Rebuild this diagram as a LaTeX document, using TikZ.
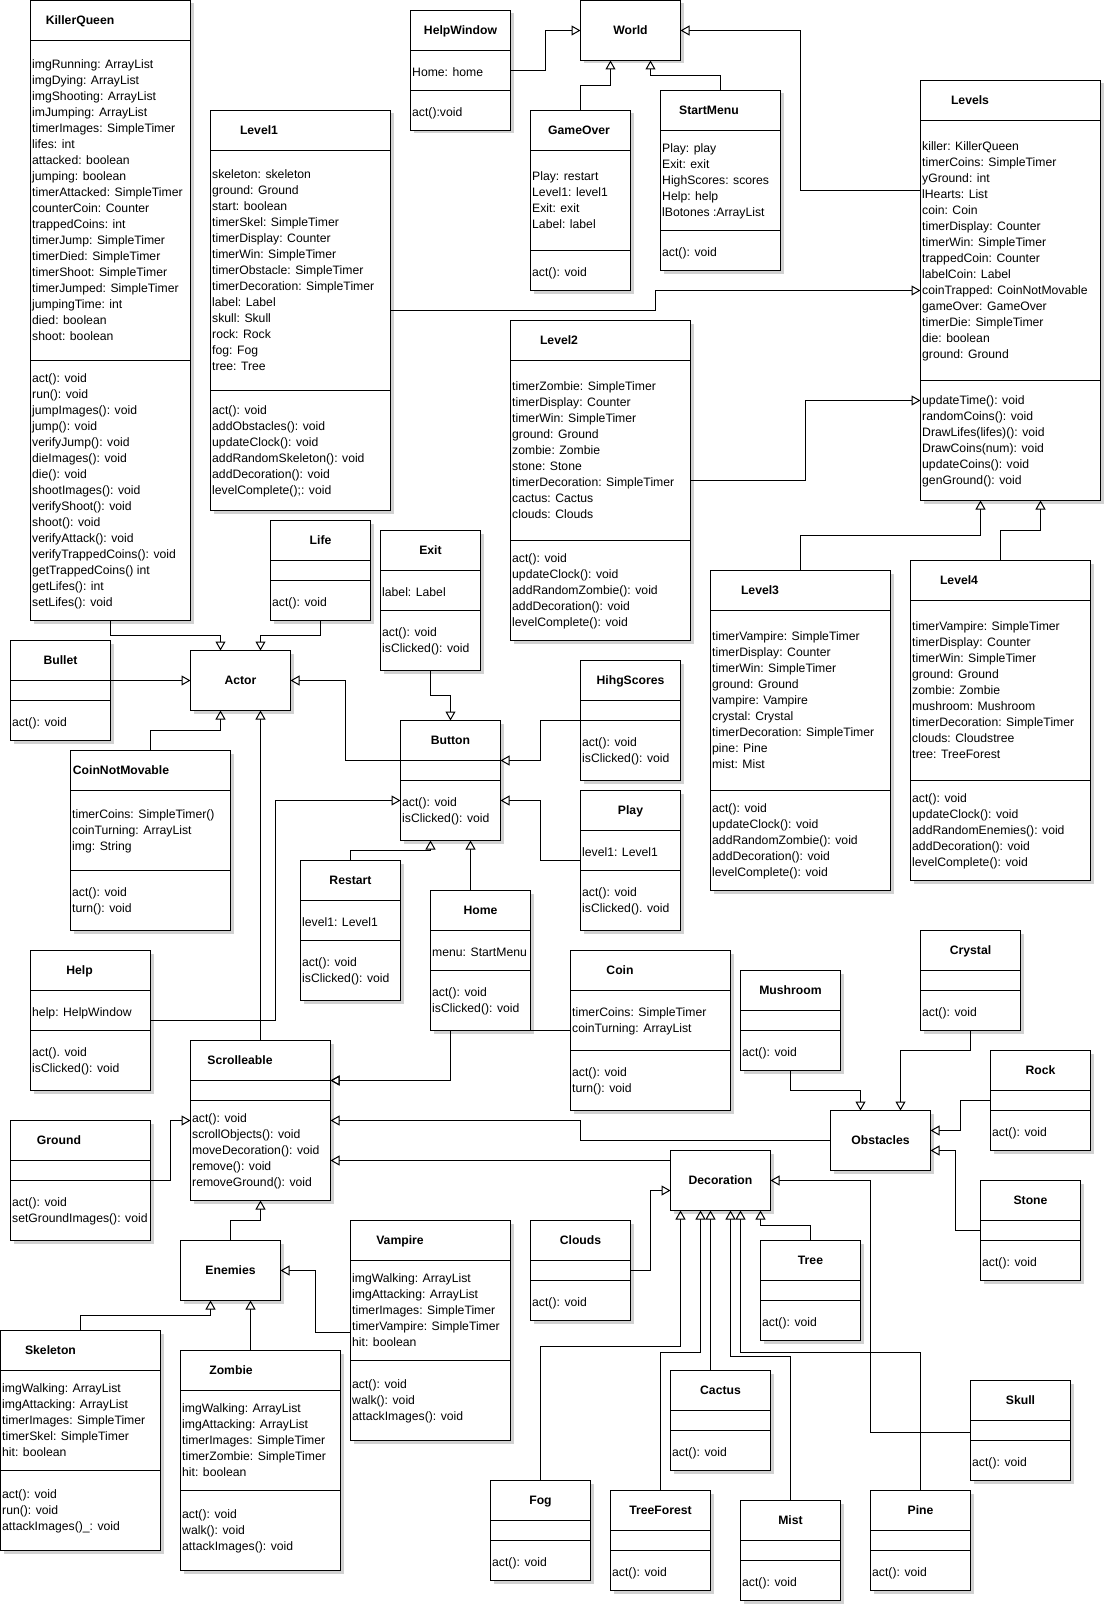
\documentclass[tikz,border=0pt]{standalone}
\usepackage{fontspec}
\setmainfont{Liberation Sans}
\usetikzlibrary{arrows.meta,shadows}

\newcommand{\kstrut}{\rule[-3.9pt]{0pt}{16pt}}
\newcommand{\klass}[9]{%
  \node[klassbox, minimum width={#4-#2}, minimum height={#5-#3}] (#1) at (#2,#3) {};
  \node[klasstitle] (#1-name) at ({#9},{(#3+#6)/2}) {#8};
  \draw[klassline] (#2,#6) -- (#4,#6) (#2,#7) -- (#4,#7);
}
\newcommand{\kbox}[6]{%
  \node[klassbox, minimum width={#4-#2}, minimum height={#5-#3}] (#1) at (#2,#3) {};
  \node[klasstitle] (#1-name) at (#1.center) {#6};
}

\begin{document}
\begin{tikzpicture}[x=1pt,y=-1pt,
  klassbox/.style={draw, fill=white, line width=1pt, anchor=north west, inner sep=0pt, outer sep=0pt,
    drop shadow={shadow xshift=3pt, shadow yshift=-3pt, fill=black!18, opacity=1}},
  klasstitle/.style={font=\fontsize{12.2pt}{16pt}\selectfont\bfseries, inner sep=0pt, text height=8.9pt, text depth=0pt},
  klassline/.style={line width=1pt},
  members/.style={anchor=west, yshift=-2pt, inner sep=0pt, align=left, font=\fontsize{12.2pt}{16pt}\selectfont,
    execute at begin node=\kstrut, execute at end node=\kstrut},
  isa/.style={line width=1pt, -{Triangle[open, length=9pt, width=10pt]}}]
\fill[white] (0,0) rectangle (1105,1605);
\useasboundingbox (0,0) rectangle (1105,1605);

\klass{kq}{30.5}{0.5}{190.5}{620.5}{40.5}{360.5}{KillerQueen}{80}
\node[members] (kq-attr) at (32,200.5) {imgRunning: ArrayList\\imgDying: ArrayList\\imgShooting: ArrayList\\imJumping: ArrayList\\timerImages: SimpleTimer\\lifes: int\\attacked: boolean\\jumping: boolean\\timerAttacked: SimpleTimer\\counterCoin: Counter\\trappedCoins: int\\timerJump: SimpleTimer\\timerDied: SimpleTimer\\timerShoot: SimpleTimer\\timerJumped: SimpleTimer\\jumpingTime: int\\died: boolean\\shoot: boolean};
\node[members] (kq-ops) at (32,490.5) {act(): void\\run(): void\\jumpImages(): void\\jump(): void\\verifyJump(): void\\dieImages(): void\\die(): void\\shootImages(): void\\verifyShoot(): void\\shoot(): void\\verifyAttack(): void\\verifyTrappedCoins(): void\\getTrappedCoins() int\\getLifes(): int\\setLifes(): void};

\klass{l1}{210.5}{110.5}{390.5}{510.5}{150.5}{390.5}{Level1}{259}
\node[members] (l1-attr) at (212,270.5) {skeleton: skeleton\\ground: Ground\\start: boolean\\timerSkel: SimpleTimer\\timerDisplay: Counter\\timerWin: SimpleTimer\\timerObstacle: SimpleTimer\\timerDecoration: SimpleTimer\\label: Label\\skull: Skull\\rock: Rock\\fog: Fog\\tree: Tree};
\node[members] (l1-ops) at (212,450.5) {act(): void\\addObstacles(): void\\updateClock(): void\\addRandomSkeleton(): void\\addDecoration(): void\\levelComplete();: void};

\klass{hw}{410.5}{10.5}{510.5}{130.5}{50.5}{90.5}{HelpWindow}{460.5}
\node[members] (hw-attr) at (412,70.5) {Home: home};
\node[members] (hw-ops) at (412,110.5) {act():void};

\kbox{world}{580.5}{0.5}{680.5}{60.5}{World}

\klass{go}{530.5}{110.5}{630.5}{290.5}{150.5}{250.5}{GameOver}{579}
\node[members] (go-attr) at (532,200.5) {Play: restart\\Level1: level1\\Exit: exit\\Label: label};
\node[members] (go-ops) at (532,270.5) {act(): void};

\klass{sm}{660.5}{90.5}{780.5}{270.5}{130.5}{230.5}{StartMenu}{709}
\node[members] (sm-attr) at (662,180.5) {Play: play\\Exit: exit\\HighScores: scores\\Help: help\\lBotones :ArrayList};
\node[members] (sm-ops) at (662,250.5) {act(): void};

\klass{lv}{920.5}{80.5}{1100.5}{500.5}{120.5}{380.5}{Levels}{970}
\node[members] (lv-attr) at (922,250.5) {killer: KillerQueen\\timerCoins: SimpleTimer\\yGround: int\\lHearts: List\\coin: Coin\\timerDisplay: Counter\\timerWin: SimpleTimer\\trappedCoin: Counter\\labelCoin: Label\\coinTrapped: CoinNotMovable\\gameOver: GameOver\\timerDie: SimpleTimer\\die: boolean\\ground: Ground};
\node[members] (lv-ops) at (922,440.5) {updateTime(): void\\randomCoins(): void\\DrawLifes(lifes)(): void\\DrawCoins(num): void\\updateCoins(): void\\genGround(): void};

\klass{l2}{510.5}{320.5}{690.5}{640.5}{360.5}{540.5}{Level2}{559}
\node[members] (l2-attr) at (512,450.5) {timerZombie: SimpleTimer\\timerDisplay: Counter\\timerWin: SimpleTimer\\ground: Ground\\zombie: Zombie\\stone: Stone\\timerDecoration: SimpleTimer\\cactus: Cactus\\clouds: Clouds};
\node[members] (l2-ops) at (512,590.5) {act(): void\\updateClock(): void\\addRandomZombie(): void\\addDecoration(): void\\levelComplete(): void};

\klass{life}{270.5}{520.5}{370.5}{620.5}{560.5}{580.5}{Life}{320.5}
\node[members] (life-ops) at (272,600.5) {act(): void};

\klass{exit}{380.5}{530.5}{480.5}{670.5}{570.5}{610.5}{Exit}{430.5}
\node[members] (exit-attr) at (382,590.5) {label: Label};
\node[members] (exit-ops) at (382,640.5) {act(): void\\isClicked(): void};

\klass{bullet}{10.5}{640.5}{110.5}{740.5}{680.5}{700.5}{Bullet}{60.5}
\node[members] (bullet-ops) at (12,720.5) {act(): void};

\kbox{actor}{190.5}{650.5}{290.5}{710.5}{Actor}

\klass{button}{400.5}{720.5}{500.5}{840.5}{760.5}{780.5}{Button}{450.5}
\node[members] (button-ops) at (402,810.5) {act(): void\\isClicked(): void};

\klass{hs}{580.5}{660.5}{680.5}{780.5}{700.5}{720.5}{HihgScores}{630.5}
\node[members] (hs-ops) at (582,750.5) {act(): void\\isClicked(): void};

\klass{cnm}{70.5}{750.5}{230.5}{930.5}{790.5}{870.5}{CoinNotMovable}{121}
\node[members] (cnm-attr) at (72,830.5) {timerCoins: SimpleTimer()\\coinTurning: ArrayList\\img: String};
\node[members] (cnm-ops) at (72,900.5) {act(): void\\turn(): void};

\klass{play}{580.5}{790.5}{680.5}{930.5}{830.5}{870.5}{Play}{630.5}
\node[members] (play-attr) at (582,850.5) {level1: Level1};
\node[members] (play-ops) at (582,900.5) {act(): void\\isClicked(). void};

\klass{restart}{300.5}{860.5}{400.5}{1000.5}{900.5}{940.5}{Restart}{350.5}
\node[members] (restart-attr) at (302,920.5) {level1: Level1};
\node[members] (restart-ops) at (302,970.5) {act(): void\\isClicked(): void};

\klass{home}{430.5}{890.5}{530.5}{1030.5}{930.5}{970.5}{Home}{480.5}
\node[members] (home-attr) at (432,950.5) {menu: StartMenu};
\node[members] (home-ops) at (432,1000.5) {act(): void\\isClicked(): void};

\klass{l3}{710.5}{570.5}{890.5}{890.5}{610.5}{790.5}{Level3}{760}
\node[members] (l3-attr) at (712,700.5) {timerVampire: SimpleTimer\\timerDisplay: Counter\\timerWin: SimpleTimer\\ground: Ground\\vampire: Vampire\\crystal: Crystal\\timerDecoration: SimpleTimer\\pine: Pine\\mist: Mist};
\node[members] (l3-ops) at (712,840.5) {act(): void\\updateClock(): void\\addRandomZombie(): void\\addDecoration(): void\\levelComplete(): void};

\klass{l4}{910.5}{560.5}{1090.5}{880.5}{600.5}{780.5}{Level4}{959}
\node[members] (l4-attr) at (912,690.5) {timerVampire: SimpleTimer\\timerDisplay: Counter\\timerWin: SimpleTimer\\ground: Ground\\zombie: Zombie\\mushroom: Mushroom\\timerDecoration: SimpleTimer\\clouds: Cloudstree\\tree: TreeForest};
\node[members] (l4-ops) at (912,830.5) {act(): void\\updateClock(): void\\addRandomEnemies(): void\\addDecoration(): void\\levelComplete(): void};

\klass{help}{30.5}{950.5}{150.5}{1090.5}{990.5}{1030.5}{Help}{79.5}
\node[members] (help-attr) at (32,1010.5) {help: HelpWindow};
\node[members] (help-ops) at (32,1060.5) {act(). void\\isClicked(): void};

\klass{crystal}{920.5}{930.5}{1020.5}{1030.5}{970.5}{990.5}{Crystal}{970.5}
\node[members] (crystal-ops) at (922,1010.5) {act(): void};

\klass{mush}{740.5}{970.5}{840.5}{1070.5}{1010.5}{1030.5}{Mushroom}{790.5}
\node[members] (mush-ops) at (742,1050.5) {act(): void};

\klass{coin}{570.5}{950.5}{730.5}{1110.5}{990.5}{1050.5}{Coin}{620}
\node[members] (coin-attr) at (572,1020.5) {timerCoins: SimpleTimer\\coinTurning: ArrayList};
\node[members] (coin-ops) at (572,1080.5) {act(): void\\turn(): void};

\klass{scroll}{190.5}{1040.5}{330.5}{1200.5}{1080.5}{1100.5}{Scrolleable}{240}
\node[members] (scroll-ops) at (192,1150.5) {act(): void\\scrollObjects(): void\\moveDecoration(): void\\remove(): void\\removeGround(): void};

\klass{rock}{990.5}{1050.5}{1090.5}{1150.5}{1090.5}{1110.5}{Rock}{1040.5}
\node[members] (rock-ops) at (992,1130.5) {act(): void};

\klass{ground}{10.5}{1120.5}{150.5}{1240.5}{1160.5}{1180.5}{Ground}{59}
\node[members] (ground-ops) at (12,1210.5) {act(): void\\setGroundImages(): void};

\kbox{obst}{830.5}{1110.5}{930.5}{1170.5}{Obstacles}
\kbox{deco}{670.5}{1150.5}{770.5}{1210.5}{Decoration}

\klass{stone}{980.5}{1180.5}{1080.5}{1280.5}{1220.5}{1240.5}{Stone}{1030.5}
\node[members] (stone-ops) at (982,1260.5) {act(): void};

\klass{clouds}{530.5}{1220.5}{630.5}{1320.5}{1260.5}{1280.5}{Clouds}{580.5}
\node[members] (clouds-ops) at (532,1300.5) {act(): void};

\klass{tree}{760.5}{1240.5}{860.5}{1340.5}{1280.5}{1300.5}{Tree}{810.5}
\node[members] (tree-ops) at (762,1320.5) {act(): void};

\kbox{enem}{180.5}{1240.5}{280.5}{1300.5}{Enemies}

\klass{vamp}{350.5}{1220.5}{510.5}{1440.5}{1260.5}{1360.5}{Vampire}{400}
\node[members] (vamp-attr) at (352,1310.5) {imgWalking: ArrayList\\imgAttacking: ArrayList\\timerImages: SimpleTimer\\timerVampire: SimpleTimer\\hit: boolean};
\node[members] (vamp-ops) at (352,1400.5) {act(): void\\walk(): void\\attackImages(): void};

\klass{skel}{0.5}{1330.5}{160.5}{1550.5}{1370.5}{1470.5}{Skeleton}{50.5}
\node[members] (skel-attr) at (2,1420.5) {imgWalking: ArrayList\\imgAttacking: ArrayList\\timerImages: SimpleTimer\\timerSkel: SimpleTimer\\hit: boolean};
\node[members] (skel-ops) at (2,1510.5) {act(): void\\run(): void\\attackImages()\_: void};

\klass{zomb}{180.5}{1350.5}{340.5}{1570.5}{1390.5}{1490.5}{Zombie}{231}
\node[members] (zomb-attr) at (182,1440.5) {imgWalking: ArrayList\\imgAttacking: ArrayList\\timerImages: SimpleTimer\\timerZombie: SimpleTimer\\hit: boolean};
\node[members] (zomb-ops) at (182,1530.5) {act(): void\\walk(): void\\attackImages(): void};

\klass{cactus}{670.5}{1370.5}{770.5}{1470.5}{1410.5}{1430.5}{Cactus}{720.5}
\node[members] (cactus-ops) at (672,1450.5) {act(): void};

\klass{skull}{970.5}{1380.5}{1070.5}{1480.5}{1420.5}{1440.5}{Skull}{1020.5}
\node[members] (skull-ops) at (972,1460.5) {act(): void};

\klass{fog}{490.5}{1480.5}{590.5}{1580.5}{1520.5}{1540.5}{Fog}{540.5}
\node[members] (fog-ops) at (492,1560.5) {act(): void};

\klass{tf}{610.5}{1490.5}{710.5}{1590.5}{1530.5}{1550.5}{TreeForest}{660.5}
\node[members] (tf-ops) at (612,1570.5) {act(): void};

\klass{mist}{740.5}{1500.5}{840.5}{1600.5}{1540.5}{1560.5}{Mist}{790.5}
\node[members] (mist-ops) at (742,1580.5) {act(): void};

\klass{pine}{870.5}{1490.5}{970.5}{1590.5}{1530.5}{1550.5}{Pine}{920.5}
\node[members] (pine-ops) at (872,1570.5) {act(): void};

\draw[isa] (hw.east |- 0,70.5) -- (545.5,70.5) |- (world.west);
\draw[isa] (go.north) |- (610.5,85.5) -- ([xshift=-20pt]world.south);
\draw[isa] (sm.north) |- (650.5,75.5) -- ([xshift=20pt]world.south);
\draw[isa] (lv.west |- 0,190.5) -- (800.5,190.5) |- (world.east);
\draw[isa] (l1.east |- 0,310.5) -| (655.5,290.5) -- (lv.west |- 0,290.5);
\draw[isa] (l2.east |- 0,480.5) -| (805.5,400.5) -- (lv.west |- 0,400.5);
\draw[isa] (l3.north) |- (980.5,535.5) -- ([xshift=-30pt]lv.south);
\draw[isa] (l4.north) |- (1040.5,530.5) -- ([xshift=30pt]lv.south);
\draw[isa] (kq.south) |- (220.5,635.5) -- ([xshift=-20pt]actor.north);
\draw[isa] (life.south) |- (260.5,635.5) -- ([xshift=20pt]actor.north);
\draw[isa] (bullet.east |- actor.west) -- (actor.west);
\draw[isa] (cnm.north) |- (220.5,730.5) -- ([xshift=-20pt]actor.south);
\draw[isa] (scroll.north) -- ([xshift=20pt]actor.south);
\draw[isa] (button.west |- 0,760.5) -| (345.5,680.5) -- (actor.east);
\draw[isa] (exit.south) |- (450.5,695.5) -- (button.north);
\draw[isa] (hs.west |- 0,720.5) -| (540.5,760.5) -- (button.east |- 0,760.5);
\draw[isa] (play.west |- 0,860.5) -| (540.5,800.5) -- (button.east |- 0,800.5);
\draw[isa] (restart.north) |- (430.5,850.5) -- ([xshift=-20pt]button.south);
\draw[isa] ([xshift=-10pt]home.north) -- ([xshift=20pt]button.south);
\draw[isa] (help.east |- 0,1020.5) -| (275.5,800.5) -- (button.west |- 0,800.5);
\draw[isa] ([xshift=-30pt]home.south) |- (scroll.east |- 0,1080.5);
\draw[isa] (coin.west |- 0,1030.5) -| (450.5,1080.5) -- (scroll.east |- 0,1080.5);
\draw[isa] (ground.east |- 0,1180.5) -| (170.5,1120.5) -- (scroll.west |- 0,1120.5);
\draw[isa] (obst.west) -| (580.5,1120.5) -- (scroll.east |- 0,1120.5);
\draw[isa] (deco.west |- 0,1160.5) -- (scroll.east |- 0,1160.5);
\draw[isa] (mush.south) |- (860.5,1090.5) -- ([xshift=-20pt]obst.north);
\draw[isa] (crystal.south) |- (900.5,1050.5) -- ([xshift=20pt]obst.north);
\draw[isa] (rock.west |- 0,1100.5) -| (960.5,1130.5) -- (obst.east |- 0,1130.5);
\draw[isa] (stone.west |- 0,1230.5) -| (955.5,1150.5) -- (obst.east |- 0,1150.5);
\draw[isa] (clouds.east |- 0,1270.5) -| (650.5,1190.5) -- (deco.west |- 0,1190.5);
\draw[isa] (tree.north) |- (760.5,1225.5) -- ([xshift=40pt]deco.south);
\draw[isa] (fog.north) |- (680.5,1346.5) -- ([xshift=-40pt]deco.south);
\draw[isa] (tf.north) |- (700.5,1352.5) -- ([xshift=-20pt]deco.south);
\draw[isa] ([xshift=-10pt]cactus.north) -- ([xshift=-10pt]deco.south);
\draw[isa] (mist.north) |- (730.5,1356.5) -- ([xshift=10pt]deco.south);
\draw[isa] (pine.north) |- (740.5,1352.5) -- ([xshift=20pt]deco.south);
\draw[isa] (skull.west |- 0,1432.5) -| (870.5,1180.5) -- (deco.east);
\draw[isa] (enem.north) |- (260.5,1220.5) -- (scroll.south);
\draw[isa] (skel.north) |- (210.5,1315.5) -- ([xshift=-20pt]enem.south);
\draw[isa] ([xshift=-10pt]zomb.north) -- ([xshift=20pt]enem.south);
\draw[isa] (vamp.west |- 0,1332.5) -| (315.5,1270.5) -- (enem.east);
\end{tikzpicture}
\end{document}
